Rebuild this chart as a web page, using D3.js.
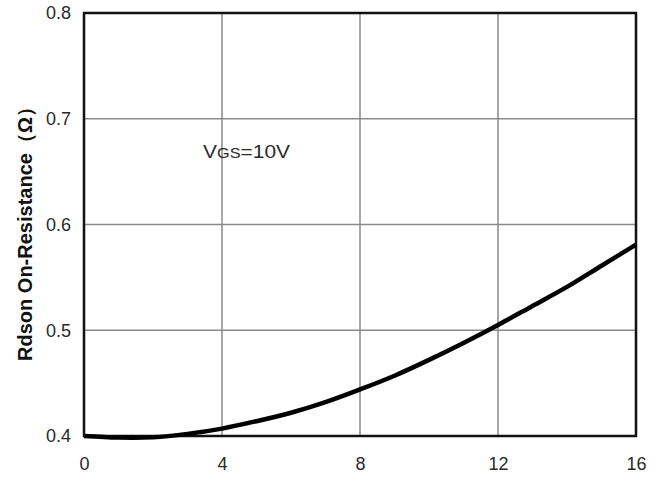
<!DOCTYPE html>
<html><head><meta charset="utf-8">
<script src="https://cdn.jsdelivr.net/npm/d3@7"></script>
<style>body{margin:0;background:#fff}svg{display:block}</style>
</head><body>
<script>
const xValues = [0,1,2,3,4,5,6,7,8,9,10,11,12,13,14,15,16];
const rdson   = [0.400,0.3985,0.3988,0.402,0.407,0.414,0.422,0.432,0.444,0.457,0.472,0.488,0.505,0.523,0.541,0.561,0.581];
const xTicks = [0,4,8,12,16];
const yTicks = [0.4,0.5,0.6,0.7,0.8];
const yLabel = "Rdson On-Resistance（Ω）";

const W=669,H=482;
const m={l:84,t:13,r:33,b:46};
const FONT="Liberation Sans, Arial, sans-serif";
const svg=d3.select("body").append("svg").attr("width",W).attr("height",H);
const x=d3.scaleLinear().domain([0,16]).range([m.l,W-m.r]);
const y=d3.scaleLinear().domain([0.4,0.8]).range([H-m.b,m.t]);

// grid
svg.append("g").selectAll("line").data(xTicks.slice(1,-1)).join("line")
  .attr("x1",d=>x(d)).attr("x2",d=>x(d)).attr("y1",y(0.4)).attr("y2",y(0.8))
  .attr("stroke","#8a8a8a").attr("stroke-width",1.5);
svg.append("g").selectAll("line").data(yTicks.slice(1,-1)).join("line")
  .attr("y1",d=>y(d)).attr("y2",d=>y(d)).attr("x1",x(0)).attr("x2",x(16))
  .attr("stroke","#8a8a8a").attr("stroke-width",1.5);

// frame
svg.append("rect").attr("x",x(0)).attr("y",y(0.8)).attr("width",x(16)-x(0)).attr("height",y(0.4)-y(0.8))
  .attr("fill","none").attr("stroke","#111").attr("stroke-width",2.5);

// axes labels
const xAxis=d3.axisBottom(x).tickValues(xTicks).tickSize(0).tickPadding(21).tickFormat(d3.format("d"));
const gx=svg.append("g").attr("transform",`translate(0,${y(0.4)})`).call(xAxis);
gx.select(".domain").remove();
gx.selectAll("text").attr("font-family",FONT).attr("font-size",18).attr("fill","#2a2a2a");

const yAxis=d3.axisLeft(y).tickValues(yTicks).tickSize(0).tickPadding(13).tickFormat(d3.format(".1f"));
const gy=svg.append("g").attr("transform",`translate(${x(0)},0)`).call(yAxis);
gy.select(".domain").remove();
gy.selectAll("text").attr("font-family",FONT).attr("font-size",18).attr("fill","#2a2a2a");

// curve
const line=d3.line().x((d,i)=>x(xValues[i])).y(d=>y(d)).curve(d3.curveCatmullRom);
svg.append("path").datum(rdson).attr("d",line).attr("fill","none").attr("stroke","#000").attr("stroke-width",4.5);

// annotation
const t=svg.append("text").attr("x",x(3.45)).attr("y",y(0.6625)).attr("font-family",FONT).attr("font-size",18).attr("fill","#2a2a2a").attr("textLength",87).attr("lengthAdjust","spacingAndGlyphs");
t.append("tspan").text("V");
t.append("tspan").attr("font-size",14).text("GS");
t.append("tspan").text("=10V");

// y label
svg.append("text").attr("transform",`translate(32,229) rotate(-90)`)
  .attr("text-anchor","middle").attr("font-family",FONT)
  .attr("font-weight","bold").attr("font-size",20).attr("fill","#111").text(yLabel);
</script>
</body></html>
